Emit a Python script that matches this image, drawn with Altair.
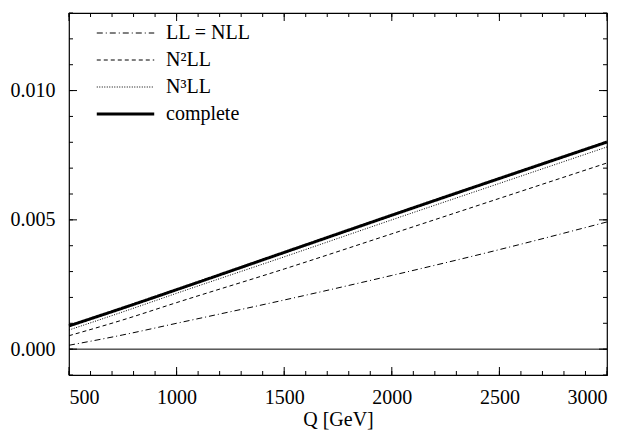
import altair as alt
import pandas as pd

# ---- data ----
q = [500, 750, 1000, 1500, 2000, 2500, 3000]
ll_nll = [0.00015, 0.00055, 0.00100, 0.00190, 0.00285, 0.00385, 0.00492]
n2ll = [0.00052, 0.00113, 0.00180, 0.00310, 0.00446, 0.00583, 0.00720]
n3ll = [0.00074, 0.00144, 0.00216, 0.00357, 0.00500, 0.00641, 0.00782]
complete = [0.00090, 0.00159, 0.00230, 0.00374, 0.00518, 0.00660, 0.00801]
series = ["LL = NLL", "N²LL", "N³LL", "complete"]

x_major = [500, 1000, 1500, 2000, 2500, 3000]
x_minor = list(range(500, 3001, 100))
y_major = [0.0, 0.005, 0.010]
y_minor = [round(-0.001 + 0.001 * i, 3) for i in range(15)]
zero_level = [0.0]

rows = []
for name, vals in zip(series, [ll_nll, n2ll, n3ll, complete]):
    for x, v in zip(q, vals):
        rows.append({"Q": x, "val": v, "series": name})
df = pd.DataFrame(rows)

FONT = "Liberation Serif, Times New Roman, serif"
XDOM = [500, 3000]
YDOM = [-0.001, 0.013]
W, H = 538, 362
XS = alt.Scale(domain=XDOM, nice=False, zero=False)
YS = alt.Scale(domain=YDOM, nice=False, zero=False)

AX = alt.Axis(values=x_major, format="d", ticks=False, domain=False, grid=False,
              labelPadding=12, labelFont=FONT, labelFontSize=20, labelColor="black",
              title="Q [GeV]", titleFont=FONT, titleFontSize=20, titleFontWeight="normal",
              titleColor="black", titlePadding=2)
AY = alt.Axis(values=y_major, format=".3f", ticks=False, domain=False, grid=False,
              labelPadding=14, labelFont=FONT, labelFontSize=20, labelColor="black", title=None)

lines = alt.Chart(df).mark_line(color="black", interpolate="monotone").encode(
    x=alt.X("Q:Q", scale=XS, axis=AX),
    y=alt.Y("val:Q", scale=YS, axis=AY),
    strokeDash=alt.StrokeDash("series:N", scale=alt.Scale(domain=series,
                              range=[[6, 3, 1, 3], [4, 3], [1, 1.5], [1, 0]]), title=None),
    strokeWidth=alt.StrokeWidth("series:N", scale=alt.Scale(type="ordinal", domain=series,
                                range=[1, 1, 1, 3]), title=None),
)

zero = alt.Chart(pd.DataFrame({"y": zero_level})).mark_rule(color="black", strokeWidth=1).encode(
    x=alt.value(0), x2=alt.value(W),
    y=alt.Y("y:Q", scale=YS, axis=AY),
)


def xticks(vals, y0, y1):
    return alt.Chart(pd.DataFrame({"t": vals})).mark_rule(color="black", strokeWidth=1).encode(
        x=alt.X("t:Q", scale=XS, axis=AX), y=alt.value(y0), y2=alt.value(y1))


def yticks(vals, x0, x1):
    return alt.Chart(pd.DataFrame({"t": vals})).mark_rule(color="black", strokeWidth=1).encode(
        y=alt.Y("t:Q", scale=YS, axis=AY), x=alt.value(x0), x2=alt.value(x1))


ticks = [
    xticks(x_minor, H, H - 4), xticks(x_major, H, H - 8),
    xticks(x_minor, 0, 4), xticks(x_major, 0, 8),
    yticks(y_minor, 0, 4), yticks(y_major, 0, 8),
    yticks(y_minor, W, W - 4), yticks(y_major, W, W - 8),
]

chart = alt.layer(lines, zero, *ticks).properties(
    width=W, height=H,
    autosize=alt.AutoSizeParams(type="none"),
    padding={"left": 61, "top": 5, "right": 14, "bottom": 60},
).configure_view(
    stroke="black", strokeWidth=1.2
).configure_legend(
    orient="none", legendX=26, legendY=10,
    symbolType="stroke", symbolSize=3300, symbolStrokeColor="black",
    clipHeight=20, padding=0,
    labelFont=FONT, labelFontSize=20, labelColor="black", labelOffset=10,
    rowPadding=7,
)

chart.save("out.html", embed_options={"renderer": "svg", "actions": False})
